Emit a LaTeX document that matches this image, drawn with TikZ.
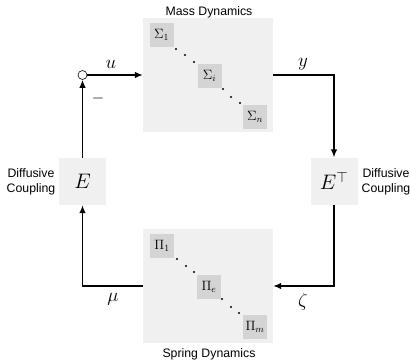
\RequirePackage{fix-cm}
\documentclass[tikz,border=0pt]{standalone}
\usepackage{fontspec}
\newfontfamily\labelfont{Liberation Sans}
\usetikzlibrary{arrows.meta}
\definecolor{boxgray}{gray}{0.94}
\definecolor{subgray}{gray}{0.83}
\tikzset{
  bigbox/.style={fill=boxgray, draw=none, minimum width=130pt, minimum height=114pt, inner sep=0pt},
  subbox/.style={fill=subgray, draw=none, minimum width=24pt, minimum height=24pt, inner sep=0pt, font=\fontsize{13.5}{16}\selectfont},
  ebox/.style={fill=boxgray, draw=none, minimum width=47pt, minimum height=47pt, inner sep=0pt, font=\fontsize{21}{25}\selectfont},
  lbl/.style={font=\labelfont\fontsize{12.3}{14.5}\selectfont, align=center, inner sep=0pt},
  sig/.style={font=\fontsize{19}{22}\selectfont, inner sep=0pt},
  arr/.style={line width=1.3pt, -{Latex[length=8pt,width=6.5pt]}},
  dot/.style={circle, fill=black, inner sep=0pt, minimum size=2.4pt},
}
\begin{document}
\begin{tikzpicture}[x=1pt,y=-1pt]
\useasboundingbox (0,0) rectangle (410,360);
% mass dynamics
\node[bigbox] (top) at (208,75) {};
\node[lbl] (toplbl) at (209,12) {Mass Dynamics};
\node[subbox] (s1) at (161.5,35) {$\Sigma_1$};
\node[subbox] (si) at (209.5,75.5) {$\Sigma_i$};
\node[subbox] (sn) at (255,116.5) {$\Sigma_n$};
\node[dot] (d1) at (176,49) {};
\node[dot] (d2) at (185,55) {};
\node[dot] (d3) at (194,62) {};
\node[dot] (d4) at (223,89) {};
\node[dot] (d5) at (231,97) {};
\node[dot] (d6) at (240,103) {};
% spring dynamics
\node[bigbox] (bot) at (208,286) {};
\node[lbl] (botlbl) at (209,354) {Spring Dynamics};
\node[subbox] (p1) at (162,245.5) {$\Pi_1$};
\node[subbox] (pe) at (209,286.5) {$\Pi_e$};
\node[subbox] (pm) at (255,326.5) {$\Pi_m$};
\node[dot] (d7) at (177,259) {};
\node[dot] (d8) at (186,266) {};
\node[dot] (d9) at (194,272) {};
\node[dot] (d10) at (222,299) {};
\node[dot] (d11) at (231,307) {};
\node[dot] (d12) at (239,313) {};
% couplings
\node[ebox] (E) at (82.5,181.5) {$E$};
\node[ebox] (ET) at (334,181) {$E^{\top}$};
\node[lbl] (lc) at (31,182) {Diffusive\\Coupling};
\node[lbl] (rc) at (386,182) {Diffusive\\Coupling};
% summing junction
\node[circle, draw, fill=white, line width=0.6pt, minimum size=9pt, inner sep=0pt] (sum) at (82.5,75) {};
\node[font=\fontsize{16}{18}\selectfont, inner sep=0pt] (minus) at (98,98) {$-$};
% connectors
\draw[arr] (E.north) -- (sum.south);
\draw[arr] (sum.east) -- (top.west);
\draw[arr] (top.east) -| (ET.north);
\draw[arr] (ET.south) |- (bot.east);
\draw[arr] (bot.west) -| (E.south);
% signal labels
\node[sig] (u) at (111,64) {$u$};
\node[sig] (y) at (303,64) {$y$};
\node[sig] (mu) at (113,299) {$\mu$};
\node[sig] (zeta) at (303,302) {$\zeta$};
\end{tikzpicture}
\end{document}
